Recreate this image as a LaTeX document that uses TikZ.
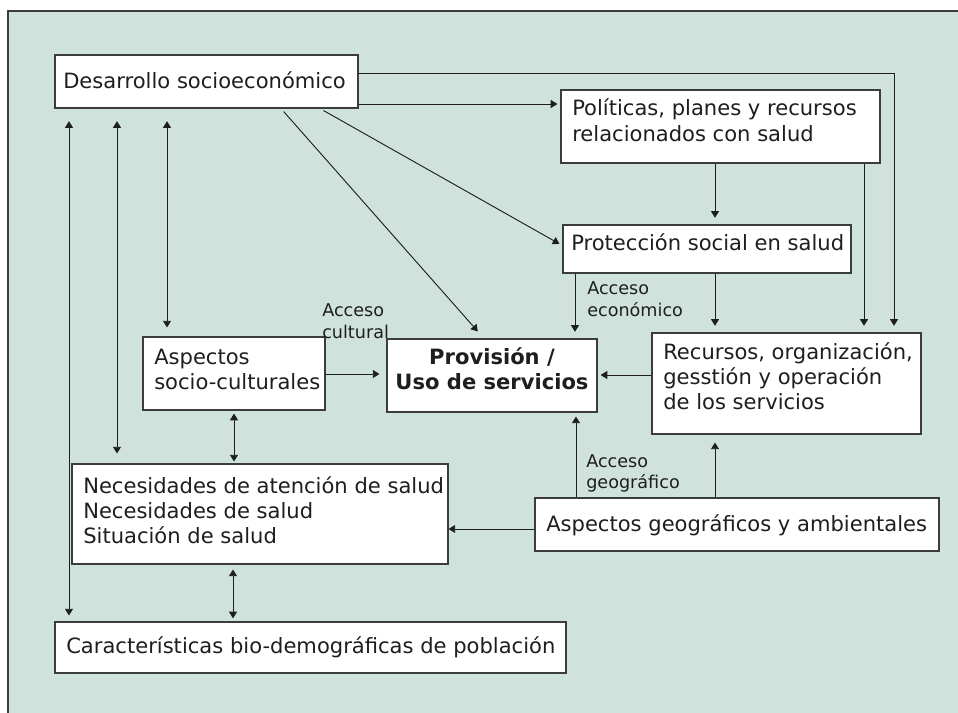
\documentclass[tikz,border=0pt]{standalone}
\usepackage{fontspec}
\setmainfont{DejaVu Sans}
\usetikzlibrary{arrows.meta,fit}
\definecolor{bg}{RGB}{207,227,220}
\definecolor{edge}{RGB}{60,60,60}
\definecolor{ink}{RGB}{30,30,30}
\newcommand{\mainsz}{\fontsize{15.8}{19}\selectfont}
\newcommand{\labsz}{\fontsize{13.2}{16.2}\selectfont}
\begin{document}
\begin{tikzpicture}[x=0.75pt,y=-0.75pt,
 box/.style={draw=edge, line width=0.8pt, fill=white, inner sep=0pt},
 txt/.style={anchor=base west, inner sep=0pt, text=ink, font=\mainsz},
 lab/.style={anchor=base west, inner sep=0pt, text=ink, font=\labsz},
 tip/.tip={Triangle[length=5pt,width=6pt]},
 arr/.style={draw=ink, line width=0.7pt, -tip},
 dbl/.style={draw=ink, line width=0.7pt, tip-tip}]

\useasboundingbox (0,0) rectangle (958,713);
\fill[bg] (8,11) rectangle (960,715);
\draw[edge, line width=0.9pt] (8,715) -- (8,11) -- (960,11);

% boxes
\node[box, fit={(55,55)(358,108)}] (des) {};
\node[box, fit={(561,90)(880,163)}] (pol) {};
\node[box, fit={(563,225)(851,273)}] (pro) {};
\node[box, fit={(652,333)(921,434)}] (rec) {};
\node[box, fit={(387,339)(597,412)}] (prov) {};
\node[box, fit={(143,337)(325,410)}] (soc) {};
\node[box, fit={(72,464)(448,564)}] (nec) {};
\node[box, fit={(55,622)(566,673)}] (car) {};
\node[box, fit={(535,498)(939,551)}] (geo) {};

% texts
\node[txt] (tdes) at (63,89) {Desarrollo socioeconómico};
\node[txt] (tpol) at (572,116) {\vtop{\hbox{Políticas, planes y recursos}\hbox{relacionados con salud}}};
\node[txt] (tpro) at (571,251) {Protección social en salud};
\node[txt] (trec) at (663,359) {\vtop{\hbox{Recursos, organización,}\hbox{gesstión y operación}\hbox{de los servicios}}};
\node[anchor=base, inner sep=0pt, text=ink, font=\mainsz\bfseries] (tprov) at (492,364)
  {\vtop{\hbox to 0pt{\hss Provisión /\hss}\hbox to 0pt{\hss Uso de servicios\hss}}};
\node[txt] (tsoc) at (154,364) {\vtop{\hbox{Aspectos}\hbox{socio-culturales}}};
\node[txt] (tnec) at (83,493) {\vtop{\hbox{Necesidades de atención de salud}\hbox{Necesidades de salud}\hbox{Situación de salud}}};
\node[txt] (tcar) at (66,653) {Características bio-demográficas de población};
\node[txt] (tgeo) at (546,531) {Aspectos geográficos y ambientales};

\node[lab] (lcul) at (322,317) {\vtop{\hbox{Acceso}\hbox{cultural}}};
\node[lab] (leco) at (587,295) {\vtop{\hbox{Acceso}\hbox{económico}}};
\node[lab] (lgeo) at (586,467) {\vtop{\hbox{Acceso}\hbox{geográfico}}};

% connectors
\draw[arr, shorten >=5pt] (des.east |- 0,73) -| (rec.north -| 894,0);
\draw[arr, shorten >=2.3pt] (des.east |- 0,104) -- (pol.west |- 0,104);
\draw[arr, shorten >=5pt] (pol.south -| 715,0) -- (pro.north -| 715,0);
\draw[arr, shorten >=5pt] (pol.south -| 864,0) -- (rec.north -| 864,0);
\draw[arr, shorten >=5pt] (pro.south -| 575,0) -- (prov.north -| 575,0);
\draw[arr, shorten >=5pt] (pro.south -| 715,0) -- (rec.north -| 715,0);
\draw[arr, shorten <=3pt, shorten >=7pt] (des.south -| 281,0) -- (prov.north -| 484,0);
\draw[arr, shorten <=3pt, shorten >=2.6pt] (des.south -| 320,0) -- (pro.west |- 0,245.6);
\draw[dbl, shorten <=9.5pt, shorten >=4.5pt] (des.south -| 69,0) -- (car.north -| 69,0);
\draw[dbl, shorten <=9.5pt, shorten >=7.5pt] (des.south -| 117,0) -- (nec.north -| 117,0);
\draw[dbl, shorten <=9.5pt, shorten >=6.75pt] (des.south -| 167,0) -- (soc.north -| 167,0);
\draw[arr, shorten >=5.25pt] (soc.east |- 0,374) -- (prov.west |- 0,374);
\draw[arr, shorten >=2.3pt] (rec.west |- 0,375) -- (prov.east |- 0,375);
\draw[dbl, shorten <=2.3pt, shorten >=1.5pt] (soc.south -| 234,0) -- (nec.north -| 234,0);
\draw[dbl, shorten <=3.75pt, shorten >=2.3pt] (nec.south -| 233,0) -- (car.north -| 233,0);
\draw[arr] (geo.west |- 0,529) -- (nec.east |- 0,529);
\draw[arr, shorten >=3pt] (geo.north -| 576,0) -- (prov.south -| 576,0);
\draw[arr, shorten >=6pt] (geo.north -| 715,0) -- (rec.south -| 715,0);
\end{tikzpicture}
\end{document}
